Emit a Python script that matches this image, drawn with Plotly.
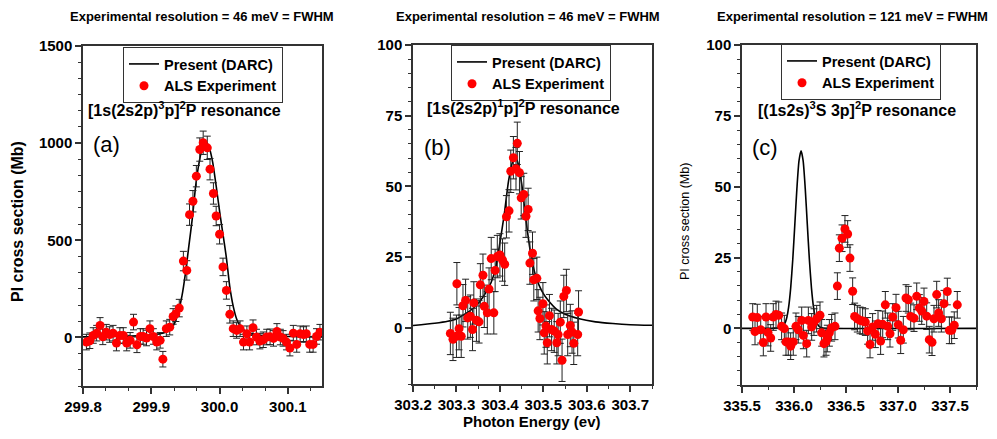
import plotly.graph_objects as go

# ---------------- data ----------------
# Panel (a)
theory_a_E = [299.80, 299.84, 299.88, 299.90, 299.91, 299.92, 299.93, 299.935, 299.94, 299.945,
              299.95, 299.955, 299.96, 299.965, 299.97, 299.975, 299.98, 299.985, 299.99, 299.995,
              300.00, 300.005, 300.01, 300.015, 300.02, 300.025, 300.03, 300.035, 300.04, 300.05,
              300.06, 300.08, 300.10, 300.12, 300.15]
theory_a_V = [3, 5, 8, 12, 17, 25, 50, 80, 135, 215,
              330, 470, 610, 780, 900, 980, 1005, 975, 900, 780,
              650, 530, 410, 260, 160, 95, 60, 40, 28, 17,
              11, 7, 5, 4, 3]
exp_a_E = [299.805, 299.810, 299.815, 299.820, 299.825, 299.829, 299.834, 299.839, 299.844, 299.849,
           299.854, 299.859, 299.864, 299.869, 299.874, 299.879, 299.884, 299.888, 299.893, 299.898,
           299.903, 299.908, 299.913, 299.917, 299.922, 299.927, 299.932, 299.936, 299.941, 299.947,
           299.952, 299.956, 299.961, 299.966, 299.971, 299.976, 299.982, 299.986, 299.991, 299.995,
           300.000, 300.005, 300.010, 300.015, 300.020, 300.025, 300.030, 300.035, 300.040, 300.044,
           300.049, 300.054, 300.059, 300.064, 300.069, 300.074, 300.079, 300.084, 300.089, 300.093,
           300.098, 300.103, 300.108, 300.113, 300.118, 300.123, 300.127, 300.132, 300.137, 300.142,
           300.147]
exp_a_V = [-24, -17, 10, 22, 62, 3, 27, 15, 22, -29,
           10, 10, -29, -15, 79, -38, 5, 5, -3, 45,
           5, -24, -15, -112, 45, 53, 108, 122, 151, 393,
           345, 632, 701, 830, 967, 1002, 976, 866, 741, 625,
           531, 363, 242, 119, 45, 36, 45, -24, 19, -24,
           50, 2, -19, -12, 2, 3, -5, 31, 2, -5,
           -24, -55, 22, -36, 19, 15, 19, -36, -36, 5,
           27]
exp_a_err = [40, 40, 40, 40, 40, 40, 40, 40, 40, 40,
             40, 40, 40, 40, 40, 40, 40, 40, 40, 40,
             40, 40, 40, 40, 40, 40, 40, 40, 45, 50,
             50, 55, 55, 55, 60, 60, 60, 55, 55, 50,
             50, 45, 45, 45, 40, 40, 40, 40, 40, 40,
             40, 40, 40, 40, 40, 40, 40, 40, 40, 40,
             40, 40, 40, 40, 40, 40, 40, 40, 40, 40,
             40]

# Panel (b)
theory_b_E = [303.20, 303.25, 303.28, 303.30, 303.32, 303.34, 303.355, 303.37, 303.38, 303.39,
              303.40, 303.41, 303.42, 303.43, 303.435, 303.44, 303.45, 303.46, 303.47, 303.48,
              303.49, 303.50, 303.51, 303.53, 303.55, 303.58, 303.62, 303.66, 303.70, 303.75]
theory_b_V = [0.7, 1.5, 2.2, 3.0, 4.8, 7.0, 9.5, 13, 16, 21,
              30, 40, 52, 59, 60, 59, 51, 38, 27, 19.5,
              15, 12, 9.8, 6.5, 4.7, 3.2, 2.0, 1.4, 1.0, 0.8]
exp_b_E = [303.286, 303.292, 303.300, 303.301, 303.306, 303.311, 303.315, 303.321, 303.326, 303.332,
           303.337, 303.340, 303.346, 303.352, 303.355, 303.361, 303.364, 303.371, 303.375, 303.380,
           303.386, 303.389, 303.394, 303.400, 303.406, 303.411, 303.415, 303.421, 303.425, 303.431,
           303.437, 303.440, 303.445, 303.449, 303.455, 303.460, 303.465, 303.469, 303.475, 303.478,
           303.485, 303.488, 303.492, 303.499, 303.502, 303.506, 303.509, 303.514, 303.519, 303.525,
           303.531, 303.534, 303.539, 303.543, 303.547, 303.553, 303.556, 303.562, 303.566, 303.570,
           303.579, 303.581]
exp_b_V = [-2.1, -4.2, -3.1, 15.5, -0.4, -3.1, 7.7, 9.6, 3.4, 4.0,
           -0.7, 8.7, 2.6, 2.0, 15.1, 18.5, 7.5, 5.2, 13.6, 24.4,
           5.2, 20.2, 25.1, 25.7, 23.9, 22.4, 39.2, 41.3, 55.3, 60.1,
           56.2, 65.2, 54.8, 45.9, 47.1, 39.4, 41.8, 22.8, 26.3, 16.9,
           17.4, 5.9, 3.2, 8.4, -1.9, 0.5, -5.4, 4.2, -0.7, -1.3,
           -5.4, -2.5, 1.9, -11.6, 11.0, 13.1, -2.5, 0.7, -1.6, -5.6,
           -2.5, 5.5]
exp_b_err = 7.5

# Panel (c)
theory_c_E = [335.50, 335.80, 335.868, 335.888, 335.908, 335.928, 335.948, 335.968, 335.988, 336.008,
              336.028, 336.048, 336.068, 336.088, 336.108, 336.128, 336.148, 336.168, 336.188, 336.208,
              336.228, 336.248, 336.268, 336.35, 337.75]
theory_c_V = [0, 0, 0.2, 0.5, 1.4, 3.4, 7.4, 14.2, 24.2, 36.7,
              49.4, 59.1, 62.7, 59.1, 49.4, 36.7, 24.2, 14.2, 7.4, 3.4,
              1.4, 0.5, 0.2, 0, 0]
exp_c_E = [335.603, 335.625, 335.647, 335.680, 335.705, 335.731, 335.750, 335.776, 335.801, 335.827,
           335.853, 335.881, 335.907, 335.923, 335.945, 335.968, 335.993, 336.019, 336.041, 336.074,
           336.090, 336.122, 336.138, 336.170, 336.192, 336.218, 336.250, 336.266, 336.288, 336.308,
           336.320, 336.340, 336.362, 336.394, 336.417, 336.436, 336.462, 336.490, 336.516, 336.538,
           336.564, 336.583, 336.609, 336.635, 336.660, 336.686, 336.708, 336.731, 336.756, 336.782,
           336.808, 336.833, 336.853, 336.878, 336.901, 336.923, 336.949, 336.981, 337.003, 337.026,
           337.051, 337.077, 337.099, 337.122, 337.154, 337.180, 337.205, 337.228, 337.250, 337.276,
           337.301, 337.327, 337.346, 337.372, 337.391, 337.417, 337.442, 337.474, 337.494, 337.516,
           337.541, 337.570]
exp_c_V = [4.0, -1.1, 3.8, -0.5, -5.0, 4.0, -1.5, -3.4, 4.0, 4.9,
           4.6, 0.7, -0.1, -4.8, -4.8, -6.3, -4.8, 0.7, -0.5, 2.8,
           -2.5, -5.4, 2.8, 0.5, 2.2, 3.4, 4.6, -1.6, -5.4, -4.8,
           -3.6, -1.6, 0.2, 0.7, 14.9, 28.3, 31.8, 35.1, 33.3, 24.8,
           13.1, 4.2, 3.4, 2.8, 2.6, 2.2, -0.9, -5.7, 0.5, -2.1,
           1.6, -4.5, 1.4, 8.3, 0.7, -1.9, 4.0, 7.3, 1.3, -4.2,
           -0.5, 10.7, 10.1, 4.2, 3.6, 11.3, 7.2, 6.1, 9.5, 4.3,
           -4.0, -4.9, 3.4, 11.9, 5.4, 3.4, 8.7, 13.0, -0.7, -0.7,
           1.1, 8.3]
exp_c_err = 4.7

panel_titles = ["Experimental resolution = 46 meV = FWHM",
                "Experimental resolution = 46 meV = FWHM",
                "Experimental resolution = 121 meV = FWHM"]
resonance_labels = ["[1s(2s2p)<sup>3</sup>p]<sup>2</sup>P resonance",
                    "[1s(2s2p)<sup>1</sup>p]<sup>2</sup>P resonance",
                    "[(1s2s)<sup>3</sup>S 3p]<sup>2</sup>P resonance"]
panel_letters = ["(a)", "(b)", "(c)"]

# ---------------- figure ----------------
# The page body has an 8 px margin, so the figure is drawn 8 px smaller and
# all window-pixel positions are shifted by that offset.
OFF = 8
W, H = 997 - OFF, 439 - OFF
FONT = "Liberation Sans, Arial, sans-serif"
AX = "#333333"

def px(x):
    return (x - OFF) / W

def py(y):
    return 1 - (y - OFF) / H

fig = go.Figure()

panels = [
    (theory_a_E, theory_a_V, exp_a_E, exp_a_V, exp_a_err, "legend"),
    (theory_b_E, theory_b_V, exp_b_E, exp_b_V, exp_b_err, "legend2"),
    (theory_c_E, theory_c_V, exp_c_E, exp_c_V, exp_c_err, "legend3"),
]

for i, (tE, tV, eE, eV, err, leg) in enumerate(panels):
    xa = "x" if i == 0 else f"x{i+1}"
    ya = "y" if i == 0 else f"y{i+1}"
    fig.add_trace(go.Scatter(x=tE, y=tV, mode="lines", line=dict(color="black", width=1.6, shape="spline", smoothing=0.6),
                             name="<b>Present (DARC)</b>", xaxis=xa, yaxis=ya, legend=leg))
    if isinstance(err, list):
        ey = dict(type="data", array=err, color="#222222", thickness=1, width=3.5)
    else:
        ey = dict(type="constant", value=err, color="#222222", thickness=1, width=3.5)
    fig.add_trace(go.Scatter(x=eE, y=eV, mode="markers", marker=dict(color="#ff0000", size=9),
                             error_y=ey, name="<b>ALS Experiment</b>", xaxis=xa, yaxis=ya, legend=leg))

tickfont = dict(family=FONT, size=15, color="black", weight="bold")

def xaxis(domain, rng, dtick, minor, fmt, anchor):
    return dict(domain=domain, range=rng, dtick=dtick, tick0=rng[0], tickformat=fmt, anchor=anchor,
                automargin=False, showgrid=False, zeroline=False, showline=True, linecolor=AX, linewidth=1.5, mirror=True,
                ticks="outside", ticklen=6, tickwidth=1.5, tickcolor=AX, tickfont=tickfont,
                minor=dict(dtick=minor, ticks="outside", ticklen=3, tickwidth=1, tickcolor=AX, showgrid=False))

def yaxis(domain, rng, dtick, minor, anchor):
    return dict(domain=domain, range=rng, dtick=dtick, tick0=0, anchor=anchor,
                automargin=False, showgrid=False, zeroline=False, showline=True, linecolor=AX, linewidth=1.5, mirror=True,
                ticks="outside", ticklen=6, tickwidth=1.5, tickcolor=AX, tickfont=tickfont,
                minor=dict(dtick=minor, tick0=0, ticks="outside", ticklen=3, tickwidth=1, tickcolor=AX, showgrid=False))

fig.update_layout(
    template="none",
    width=W, height=H, margin=dict(l=0, r=0, t=0, b=0, autoexpand=False),
    paper_bgcolor="white", plot_bgcolor="white",
    xaxis=xaxis([px(83), px(322)], [299.8, 300.15], 0.1, 0.1 / 3, ".1f", "y"),
    yaxis=yaxis([py(386), py(46)], [-250, 1500], 500, 500 / 6, "x"),
    xaxis2=xaxis([px(413), px(652)], [303.2, 303.75], 0.1, 0.05, ".1f", "y2"),
    yaxis2=yaxis([py(384), py(45)], [-20, 100], 25, 5, "x2"),
    xaxis3=xaxis([px(742), px(976)], [335.5, 337.75], 0.5, 0.25, ".1f", "y3"),
    yaxis3=yaxis([py(385), py(45)], [-20, 100], 25, 5, "x3"),
    showlegend=True,
)

legend_pos = [(123, 47), (451, 45), (781, 44)]
for i, (lx, ly) in enumerate(legend_pos):
    key = "legend" if i == 0 else f"legend{i+1}"
    fig.update_layout(**{key: dict(x=px(lx), y=py(ly), xanchor="left", yanchor="top",
                                   bordercolor=AX, borderwidth=1, bgcolor="white",
                                   font=dict(family=FONT, size=14.5, color="black"),
                                   tracegroupgap=0, itemwidth=30, traceorder="normal")})

annotations = []
title_x = [202, 528, 852]
for i, t in enumerate(panel_titles):
    annotations.append(dict(text=f"<b>{t}</b>", x=px(title_x[i]), y=py(17), xref="paper", yref="paper",
                            showarrow=False, xanchor="center", yanchor="middle",
                            font=dict(family=FONT, size=13, color="black")))
res_pos = [(86, 109), (425, 107), (756, 109)]
for i, t in enumerate(resonance_labels):
    annotations.append(dict(text=f"<b>{t}</b>", x=px(res_pos[i][0]), y=py(res_pos[i][1]), xref="paper", yref="paper",
                            showarrow=False, xanchor="left", yanchor="middle",
                            font=dict(family=FONT, size=16, color="black")))
let_pos = [(91, 144), (422, 147), (750, 147)]
for i, t in enumerate(panel_letters):
    annotations.append(dict(text=t, x=px(let_pos[i][0]), y=py(let_pos[i][1]), xref="paper", yref="paper",
                            showarrow=False, xanchor="left", yanchor="middle",
                            font=dict(family=FONT, size=22, color="black")))
# axis titles
annotations.append(dict(text="<b>PI cross section (Mb)</b>", x=px(18), y=py(222), xref="paper", yref="paper",
                        showarrow=False, textangle=-90, xanchor="center", yanchor="middle",
                        font=dict(family=FONT, size=16, color="black")))
annotations.append(dict(text="PI cross section (Mb)", x=px(685), y=py(222), xref="paper", yref="paper",
                        showarrow=False, textangle=-90, xanchor="center", yanchor="middle",
                        font=dict(family=FONT, size=12.5, color="black")))
annotations.append(dict(text="<b>Photon Energy (ev)</b>", x=px(532), y=py(421), xref="paper", yref="paper",
                        showarrow=False, xanchor="center", yanchor="middle",
                        font=dict(family=FONT, size=15, color="black")))
fig.update_layout(annotations=annotations)

fig.write_html("out.html")
